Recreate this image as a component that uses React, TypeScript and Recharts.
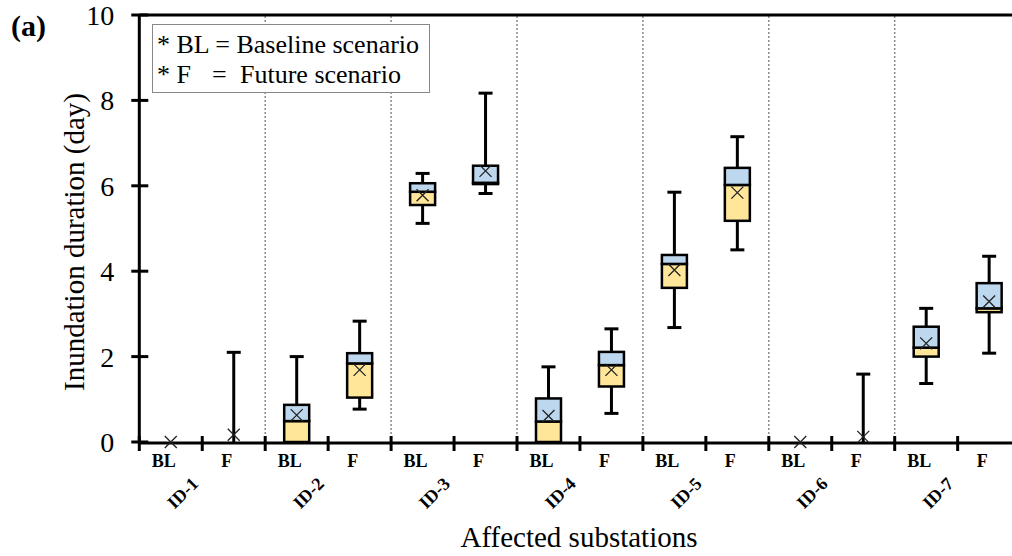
import React from "react";
import { ComposedChart, Bar, XAxis, YAxis, Line, ReferenceLine } from "recharts";

const stations = ["ID-1", "ID-2", "ID-3", "ID-4", "ID-5", "ID-6", "ID-7"];
const scenarios = ["BL", "F"];
// order: ID-1 BL, ID-1 F, ID-2 BL, ID-2 F, ...
const whiskerLow = [0, 0, 0, 0.77, 5.12, 5.82, 0, 0.67, 2.68, 4.5, 0, 0, 1.37, 2.08];
const q1 = [0, 0, 0, 1.04, 5.55, 6.04, 0, 1.3, 3.61, 5.18, 0, 0, 2.0, 3.04];
const median = [0, 0, 0.49, 1.84, 5.86, 6.07, 0.48, 1.8, 4.17, 6.02, 0, 0, 2.21, 3.13];
const q3 = [0, 0, 0.87, 2.08, 6.06, 6.47, 1.02, 2.11, 4.38, 6.42, 0, 0, 2.7, 3.72];
const whiskerHigh = [0, 2.1, 2.0, 2.83, 6.29, 8.17, 1.76, 2.65, 5.85, 7.15, 0, 1.59, 3.13, 4.35];
const mean = [0, 0.17, 0.63, 1.69, 5.78, 6.35, 0.61, 1.69, 4.03, 5.84, 0, 0.12, 2.31, 3.29];
const yTicks = [0, 2, 4, 6, 8, 10];

const slots = stations.flatMap((s) => scenarios.map((c) => `${s}|${c}`));
const data = slots.map((key, i) => ({
  key,
  pos: i + 0.5,
  base: whiskerLow[i],
  lowW: q1[i] - whiskerLow[i],
  lowBox: median[i] - q1[i],
  highBox: q3[i] - median[i],
  highW: whiskerHigh[i] - q3[i],
  mean: mean[i],
}));
const boundaryTicks = slots.map((_, i) => i).concat([slots.length]);
const separators = stations.slice(1).map((_, i) => (i + 1) * scenarios.length);

const SERIF = '"Liberation Serif", "Times New Roman", Times, serif';
const YELLOW = "#FFE699";
const BLUE = "#BDD7EE";

const UpperWhisker = (p: any) => {
  const { x, y, width, height } = p;
  if (!(height > 0.3)) return <g />;
  const cx = x + width / 2;
  return (
    <g>
      <line x1={cx} x2={cx} y1={y} y2={y + height} stroke="#000" strokeWidth={3} />
      <line x1={cx - 7} x2={cx + 7} y1={y} y2={y} stroke="#000" strokeWidth={3} />
    </g>
  );
};
const LowerWhisker = (p: any) => {
  const { x, y, width, height } = p;
  if (!(height > 0.3)) return <g />;
  const cx = x + width / 2;
  return (
    <g>
      <line x1={cx} x2={cx} y1={y} y2={y + height} stroke="#000" strokeWidth={3} />
      <line x1={cx - 7} x2={cx + 7} y1={y + height} y2={y + height} stroke="#000" strokeWidth={3} />
    </g>
  );
};
const makeBox = (fill: string) => (p: any) => {
  const { x, y, width, height } = p;
  if (!(height > 0.2)) return <g />;
  return <rect x={x} y={y} width={width} height={height} fill={fill} stroke="#000" strokeWidth={2.5} />;
};
const LowBox = makeBox(YELLOW);
const HighBox = makeBox(BLUE);

const MeanDot = (p: any) => {
  const { cx, cy } = p;
  if (cx == null || cy == null) return <g />;
  const s = 6;
  return (
    <path
      d={`M${cx - s},${cy - s}L${cx + s},${cy + s}M${cx - s},${cy + s}L${cx + s},${cy - s}`}
      stroke="#222"
      strokeWidth={1.3}
      fill="none"
    />
  );
};

const CatTick = (p: any) => {
  const { x, y, payload } = p;
  const lab = String(payload.value).split("|")[1];
  return (
    <text x={x - 7} y={y + 25} textAnchor="middle" fontWeight="bold" fontSize={18} fontFamily={SERIF} fill="#000">
      {lab}
    </text>
  );
};

const BoundaryTick = (p: any) => {
  const { x, y, payload } = p;
  const v = Number(payload.value);
  const isMid = v % scenarios.length === 1;
  const st = stations[Math.floor(v / scenarios.length)];
  const ax = x - 3;
  const ay = y + 42;
  return (
    <g>
      <line x1={x} x2={x} y1={y - 7} y2={y + 8} stroke="#000" strokeWidth={3} />
      {isMid && st ? (
        <g transform={`translate(${ax} ${ay}) rotate(-45)`}>
          <text
            x={0}
            y={0}
            textAnchor="end"
            fontWeight="bold"
            fontSize={18}
            fontFamily={SERIF}
            fill="#000"
          >
            {st}
          </text>
        </g>
      ) : null}
    </g>
  );
};

const YTick = (p: any) => {
  const { x, y, payload } = p;
  return (
    <g>
      <line x1={x - 8} x2={x + 9} y1={y} y2={y} stroke="#000" strokeWidth={3} />
      <text x={x - 25} y={y + 10} textAnchor="end" fontSize={28} fontFamily={SERIF} fill="#000">
        {payload.value}
      </text>
    </g>
  );
};

export default function App() {
  const W = 1040;
  const H = 556;
  const plotLeft = 139.3;
  const plotRight = 1020.6;
  return (
    <div
      style={{
        position: "absolute",
        left: 0,
        top: 0,
        width: 1012,
        height: 556,
        overflow: "hidden",
        background: "#fff",
        fontFamily: SERIF,
      }}
    >
      <ComposedChart
        width={W}
        height={H}
        data={data}
        margin={{ top: 14, right: W - plotRight, left: plotLeft - 120, bottom: 112 }}
        barGap={0}
      >
        <XAxis
          xAxisId="num"
          dataKey="pos"
          type="number"
          domain={[0, slots.length]}
          ticks={boundaryTicks}
          allowDataOverflow
          height={1}
          axisLine={{ stroke: "#000", strokeWidth: 3 }}
          tickLine={false}
          tickSize={0}
          tickMargin={0}
          interval={0}
          tick={BoundaryTick}
        />
        <XAxis
          xAxisId="cat"
          dataKey="key"
          type="category"
          height={1}
          axisLine={false}
          tickLine={false}
          tickSize={0}
          tickMargin={0}
          interval={0}
          tick={CatTick}
        />
        <XAxis
          xAxisId="top"
          orientation="top"
          dataKey="pos"
          type="number"
          domain={[0, slots.length]}
          allowDataOverflow
          height={1}
          axisLine={{ stroke: "#000", strokeWidth: 3 }}
          tick={false}
          tickLine={false}
        />
        <YAxis
          type="number"
          domain={[0, 10]}
          ticks={yTicks}
          width={120}
          interval={0}
          axisLine={{ stroke: "#000", strokeWidth: 3 }}
          tickLine={false}
          tickSize={0}
          tickMargin={0}
          tick={YTick}
        />
        {separators.map((s) => (
          <ReferenceLine
            key={s}
            xAxisId="num"
            x={s}
            stroke="#8a8a8a"
            strokeWidth={1.5}
            strokeDasharray="2 2"
          />
        ))}
        <Bar xAxisId="cat" dataKey="base" stackId="a" fill="none" barSize={25} isAnimationActive={false} shape={() => <g />} />
        <Bar xAxisId="cat" dataKey="lowW" stackId="a" barSize={25} isAnimationActive={false} shape={LowerWhisker} />
        <Bar xAxisId="cat" dataKey="lowBox" stackId="a" barSize={25} isAnimationActive={false} shape={LowBox} />
        <Bar xAxisId="cat" dataKey="highBox" stackId="a" barSize={25} isAnimationActive={false} shape={HighBox} />
        <Bar xAxisId="cat" dataKey="highW" stackId="a" barSize={25} isAnimationActive={false} shape={UpperWhisker} />
        <Line
          xAxisId="cat"
          dataKey="mean"
          stroke="none"
          isAnimationActive={false}
          dot={MeanDot}
          activeDot={false}
        />
      </ComposedChart>

      <div style={{ position: "absolute", left: 11, top: 8, fontSize: 30, fontWeight: "bold", lineHeight: "36px" }}>(a)</div>

      <div
        style={{
          position: "absolute",
          left: 74,
          top: 242,
          transform: "translate(-50%, -50%) rotate(-90deg)",
          fontSize: 29,
          whiteSpace: "nowrap",
          lineHeight: "32px",
        }}
      >
        Inundation duration (day)
      </div>

      <div
        style={{
          position: "absolute",
          left: 579,
          top: 521,
          transform: "translateX(-50%)",
          fontSize: 29,
          whiteSpace: "nowrap",
          lineHeight: "32px",
        }}
      >
        Affected substations
      </div>

      <div
        style={{
          position: "absolute",
          left: 152,
          top: 24,
          width: 276,
          height: 67,
          border: "1px solid #888",
          background: "#fff",
          fontSize: 26,
          lineHeight: "30px",
        }}
      >
        <div style={{ position: "absolute", left: 4, top: 5, whiteSpace: "pre" }}>* BL = Baseline scenario</div>
        <div style={{ position: "absolute", left: 4, top: 35, whiteSpace: "pre" }}>* F</div>
        <div style={{ position: "absolute", left: 59, top: 35, whiteSpace: "pre" }}>=</div>
        <div style={{ position: "absolute", left: 87, top: 35, whiteSpace: "pre" }}>Future scenario</div>
      </div>
    </div>
  );
}
